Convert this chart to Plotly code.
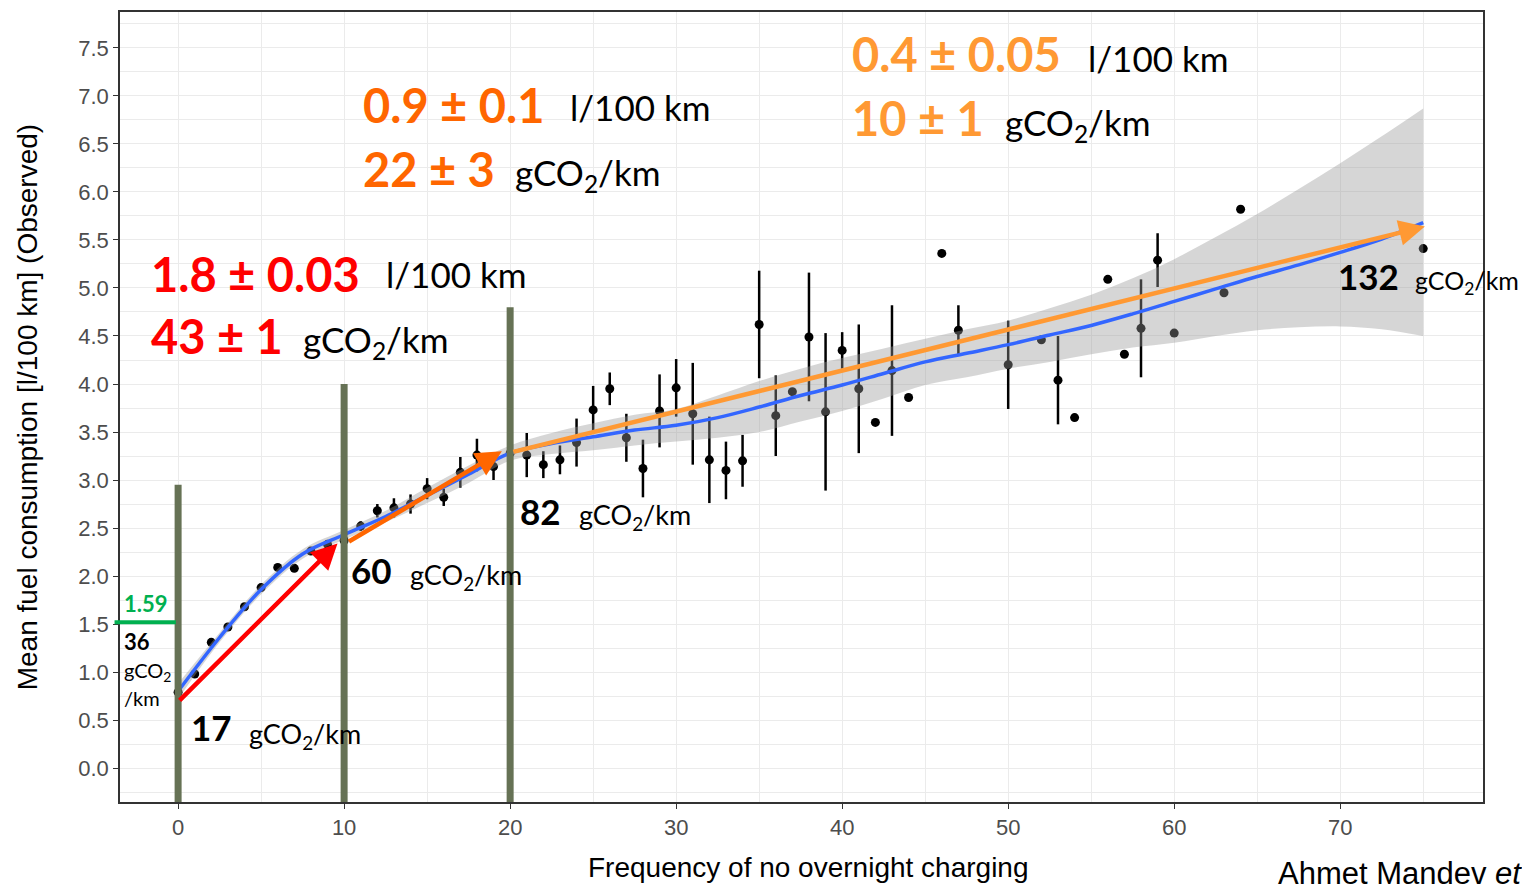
import plotly.graph_objects as go

# ---------------- data ----------------
obs_x = [0, 1, 2, 3, 4, 5, 6, 7, 8, 9,
         10, 11, 12, 13, 14, 15, 16, 17, 18, 19,
         20, 21, 22, 23, 24, 25, 26, 27, 28, 29,
         30, 31, 32, 33, 34, 35, 36, 37, 38, 39,
         40, 41, 42, 43, 44,
         46, 47, 50, 52, 53, 54, 56, 57, 58, 59, 60, 63, 64, 75]
obs_y = [0.79, 0.98, 1.31, 1.47, 1.68, 1.88, 2.09, 2.08, 2.26, 2.33,
         2.37, 2.52, 2.68, 2.71, 2.75, 2.91, 2.82, 3.08, 3.26, 3.14,
         3.28, 3.26, 3.16, 3.21, 3.39, 3.73, 3.95, 3.44, 3.12, 3.72,
         3.96, 3.69, 3.21, 3.10, 3.20, 4.62, 3.67, 3.92, 4.49, 3.71,
         4.35, 3.95, 3.60, 4.14, 3.86,
         5.36, 4.56, 4.20, 4.46, 4.04, 3.65, 5.09, 4.31, 4.58, 5.29, 4.53, 4.95, 5.82, 5.41]
obs_err = [0, 0, 0, 0, 0, 0, 0, 0, 0, 0,
           0, 0.05, 0.07, 0.10, 0.10, 0.11, 0.09, 0.16, 0.17, 0.14,
           0.18, 0.23, 0.14, 0.15, 0.25, 0.25, 0.17, 0.25, 0.30, 0.38,
           0.30, 0.53, 0.45, 0.30, 0.27, 0.56, 0.42, 0, 0.67, 0.82,
           0.19, 0.67, 0, 0.68, 0,
           0, 0.26, 0.46, 0, 0.46, 0, 0, 0, 0.51, 0.28, 0, 0, 0, 0]

fit_x = [0, 2.5, 5, 7.5, 10, 12.5, 15, 17.5, 20, 22.5, 25, 27.5, 30, 32.5, 35, 37.5,
         40, 42.5, 45, 47.5, 50, 52.5, 55, 57.5, 60, 62.5, 65, 67.5, 70, 72.5, 75]
fit_y = [0.80, 1.36, 1.86, 2.23, 2.43, 2.62, 2.84, 3.06, 3.28, 3.38, 3.45, 3.52, 3.57, 3.65, 3.76, 3.88,
         3.99, 4.11, 4.23, 4.32, 4.41, 4.51, 4.61, 4.73, 4.86, 4.99, 5.12, 5.24, 5.37, 5.51, 5.68]
fit_hi = [0.88, 1.41, 1.91, 2.28, 2.48, 2.68, 2.92, 3.15, 3.36, 3.49, 3.59, 3.68, 3.74, 3.88, 4.03, 4.16,
          4.27, 4.37, 4.47, 4.57, 4.66, 4.79, 4.93, 5.10, 5.30, 5.53, 5.77, 6.03, 6.30, 6.58, 6.87]
fit_lo = [0.72, 1.31, 1.81, 2.18, 2.38, 2.56, 2.76, 2.97, 3.20, 3.27, 3.31, 3.36, 3.40, 3.44, 3.50, 3.61,
          3.72, 3.85, 3.99, 4.07, 4.16, 4.23, 4.31, 4.38, 4.43, 4.50, 4.56, 4.59, 4.60, 4.57, 4.50]

# segment arrows: (start x, start y, end x, end y)
seg_x0 = [0.0, 10.2, 20.1]
seg_y0 = [0.69, 2.35, 3.29]
seg_x1 = [9.6, 19.5, 75.1]
seg_y1 = [2.34, 3.30, 5.64]
seg_colors = ["#FF0000", "#FF6600", "#FF9933"]

# vertical break bars
break_x = [0, 10, 20]
break_top = [2.95, 4.0, 4.8]

x_ticks = [0, 10, 20, 30, 40, 50, 60, 70]
y_ticks = [0.0, 0.5, 1.0, 1.5, 2.0, 2.5, 3.0, 3.5, 4.0, 4.5, 5.0, 5.5, 6.0, 6.5, 7.0, 7.5]

# ---------------- figure ----------------
fig = go.Figure()

fig.add_trace(go.Scatter(
    x=obs_x, y=obs_y, mode="markers",
    marker=dict(color="black", size=9),
    error_y=dict(type="data", array=obs_err, visible=True, color="black",
                 thickness=2.5, width=0),
    showlegend=False, hoverinfo="skip"))

fig.add_trace(go.Scatter(x=fit_x, y=fit_lo, mode="lines", line=dict(width=0, shape="spline"),
                         showlegend=False, hoverinfo="skip"))
fig.add_trace(go.Scatter(x=fit_x, y=fit_hi, mode="lines", line=dict(width=0, shape="spline"),
                         fill="tonexty", fillcolor="rgba(153,153,153,0.4)",
                         showlegend=False, hoverinfo="skip"))
fig.add_trace(go.Scatter(x=fit_x, y=fit_y, mode="lines",
                         line=dict(color="#3366FF", width=3.5, shape="spline"),
                         showlegend=False, hoverinfo="skip"))

# vertical bars
for bx, bt in zip(break_x, break_top):
    fig.add_shape(type="line", xref="x", yref="y", x0=bx, x1=bx, y0=-0.42, y1=bt,
                  line=dict(color="#667255", width=7), layer="above")

# green horizontal reference line (1.59)
fig.add_shape(type="line", xref="paper", yref="y", x0=-0.004, x1=0.041, y0=1.52, y1=1.52,
              line=dict(color="#00B050", width=4), layer="above")

# arrows
for x0, y0, x1, y1, c in zip(seg_x0, seg_y0, seg_x1, seg_y1, seg_colors):
    fig.add_annotation(x=x1, y=y1, ax=x0, ay=y0, xref="x", yref="y", axref="x", ayref="y",
                       showarrow=True, arrowhead=2, arrowsize=1.15, arrowwidth=4.5,
                       arrowcolor=c, text="", standoff=0)

FONT = "Lato, Carlito, Open Sans, sans-serif"

def txt(x, y, s, size, color="black", bold=False):
    if bold:
        s = "<b>" + s + "</b>"
    fig.add_annotation(x=x, y=y, xref="x", yref="y", text=s, showarrow=False,
                       xanchor="left", yanchor="middle",
                       font=dict(family=FONT, size=size, color=color))

G = "gCO<sub>2</sub>/km"
# red segment
txt(-1.75, 5.15, "1.8 ± 0.03", 47, "#FF0000", True)
txt(12.4, 5.15, "l/100 km", 35)
txt(-1.75, 4.50, "43 ± 1", 47, "#FF0000", True)
txt(7.4, 4.44, G, 35)
# dark orange segment
txt(11.0, 6.91, "0.9 ± 0.1", 47, "#FF6600", True)
txt(23.5, 6.88, "l/100 km", 35)
txt(11.0, 6.24, "22 ± 3", 47, "#FF6600", True)
txt(20.2, 6.18, G, 35)
# light orange segment
txt(40.5, 7.44, "0.4 ± 0.05", 47, "#FF9933", True)
txt(54.7, 7.40, "l/100 km", 35)
txt(40.5, 6.77, "10 ± 1", 47, "#FF9933", True)
txt(49.7, 6.70, G, 35)
# point labels
txt(0.65, 0.43, "17", 35, "black", True)
txt(4.15, 0.34, G, 27)
txt(10.3, 2.06, "60", 35, "black", True)
txt(13.85, 2.00, G, 27)
txt(20.5, 2.68, "82", 35, "black", True)
txt(24.0, 2.62, G, 27)
txt(69.75, 5.12, "132", 35, "black", True)
txt(74.4, 5.06, G, 25)
# green note
txt(-3.4, 1.71, "1.59", 22, "#00B050", True)
txt(-3.4, 1.32, "36", 22, "black", True)
txt(-3.4, 1.01, "gCO<sub>2</sub>", 20)
txt(-3.4, 0.73, "/km", 20)

AX_FONT = "Liberation Sans, Arial, sans-serif"
fig.add_annotation(xref="paper", yref="paper", x=0.5055, y=-0.083, text="Frequency of no overnight charging",
                   showarrow=False, xanchor="center", yanchor="middle",
                   font=dict(family=AX_FONT, size=28, color="black"))
fig.add_annotation(xref="paper", yref="paper", x=-0.068, y=0.5,
                   text="Mean fuel consumption [l/100 km] (Observed)", textangle=-90,
                   showarrow=False, xanchor="center", yanchor="middle",
                   font=dict(family=AX_FONT, size=28, color="black"))
fig.add_annotation(xref="paper", yref="paper", x=0.848, y=-0.09, text="Ahmet Mandev <i>et</i>",
                   showarrow=False, xanchor="left", yanchor="middle",
                   font=dict(family=AX_FONT, size=31, color="black"))

# page body has an 8px margin: compensate so the panel lands at px 120..1483 x 10..802
fig.update_layout(
    width=1522, height=876,
    margin=dict(l=112, r=47, t=2, b=82),
    paper_bgcolor="white", plot_bgcolor="white",
    showlegend=False,
)
fig.update_xaxes(
    range=[-3.5, 78.6], tickvals=x_ticks, ticktext=[str(v) for v in x_ticks],
    showgrid=True, gridcolor="#EBEBEB", gridwidth=1.3,
    minor=dict(dtick=5, tick0=0, showgrid=True, gridcolor="#EBEBEB", gridwidth=0.7),
    ticks="outside", ticklen=5, tickcolor="#333333", tickwidth=1.2,
    showline=True, linecolor="#333333", linewidth=1.5, mirror=True, zeroline=False,
    tickfont=dict(family=AX_FONT, size=22, color="#4D4D4D"),
)
fig.update_yaxes(
    range=[-0.353, 7.874], tickvals=y_ticks, ticktext=[f"{v:.1f}" for v in y_ticks],
    showgrid=True, gridcolor="#EBEBEB", gridwidth=1.3,
    minor=dict(dtick=0.25, tick0=0, showgrid=True, gridcolor="#EBEBEB", gridwidth=0.7),
    ticks="outside", ticklen=5, tickcolor="#333333", tickwidth=1.2,
    showline=True, linecolor="#333333", linewidth=1.5, mirror=True, zeroline=False,
    tickfont=dict(family=AX_FONT, size=22, color="#4D4D4D"),
)

fig.write_html("out.html")
